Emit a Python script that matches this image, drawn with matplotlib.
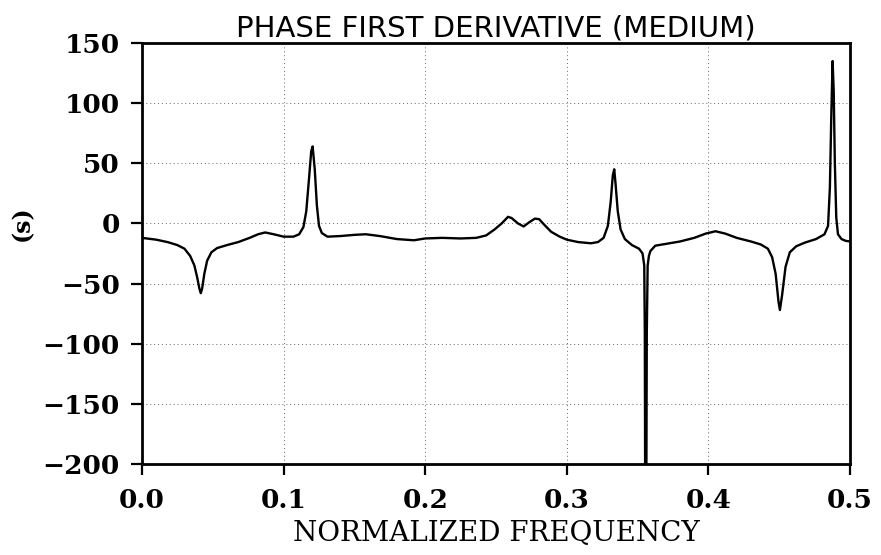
import matplotlib
matplotlib.use("Agg")
import matplotlib.pyplot as plt

# normalized frequency and phase first derivative (s)
freq = [
    0.000, 0.010, 0.018, 0.025, 0.030, 0.034, 0.037, 0.039, 0.0405, 0.0415,
    0.0425, 0.044, 0.046, 0.049, 0.053, 0.060, 0.068, 0.076, 0.082, 0.087,
    0.093, 0.100, 0.107, 0.111, 0.114, 0.116, 0.118, 0.1195, 0.1205, 0.122,
    0.1235, 0.125, 0.127, 0.131, 0.140, 0.150, 0.158, 0.168, 0.180, 0.192,
    0.200, 0.212, 0.225, 0.236, 0.243, 0.249, 0.254, 0.2585, 0.261, 0.2655,
    0.2695, 0.2735, 0.2775, 0.2805, 0.284, 0.289, 0.295, 0.300, 0.308, 0.317,
    0.322, 0.326, 0.329, 0.331, 0.3325, 0.3335, 0.3345, 0.336, 0.338, 0.341,
    0.346, 0.351, 0.3535, 0.3547, 0.3551, 0.3554, 0.3557, 0.3561, 0.3565, 0.3571,
    0.3580, 0.359, 0.3625, 0.370, 0.380, 0.390, 0.398, 0.405, 0.412, 0.420,
    0.430, 0.437, 0.442, 0.445, 0.4475, 0.4495, 0.4505, 0.452, 0.4545, 0.4575,
    0.462, 0.468, 0.476, 0.482, 0.4845, 0.4858, 0.4868, 0.4877, 0.4885, 0.4893,
    0.4903, 0.4915, 0.494, 0.497, 0.500,
]
deriv = [
    -12, -13.5, -15.5, -18, -21, -27, -35, -45, -54, -58,
    -54, -42, -31, -24, -20.5, -18, -15.5, -12, -9, -7.5,
    -9, -11, -11, -9, -3, 10, 38, 60, 64, 45,
    15, -2, -8, -11, -10.5, -9.5, -9, -10.5, -13, -14,
    -12.5, -12, -12.5, -12, -10, -5, 0, 5.5, 4.5, 0,
    -2.5, 1, 4, 3.5, -1, -7, -11, -13.5, -15.5, -16.5,
    -15.5, -12, -2, 18, 40, 45, 32, 10, -5, -13,
    -18, -21, -25, -35, -90, -250, -400, -250, -90, -35,
    -27, -23, -18.5, -17, -15, -12, -8.5, -6.5, -8.5, -12,
    -15, -17.5, -21, -28, -42, -65, -72, -60, -36, -24,
    -19, -16, -13, -9, -2, 30, 90, 135, 110, 50,
    5, -9, -13, -14.5, -15,
]

xticks = [0.0, 0.1, 0.2, 0.3, 0.4, 0.5]
xtick_labels = ["0.0", "0.1", "0.2", "0.3", "0.4", "0.5"]
yticks = [150, 100, 50, 0, -50, -100, -150, -200]

fig = plt.figure(figsize=(8.81, 5.55), dpi=100)
ax = fig.add_axes([142 / 881, 1 - 464 / 555, 708 / 881, 421 / 555])

ax.plot(freq, deriv, color="black", linewidth=1.7)

ax.set_xlim(0, 0.5)
ax.set_ylim(-200, 150)
ax.set_xticks(xticks)
ax.set_xticklabels(xtick_labels)
ax.set_yticks(yticks)
ax.set_yticklabels([str(v).replace("-", "\u2212") for v in yticks])
for lbl in ax.get_xticklabels() + ax.get_yticklabels():
    lbl.set_fontweight("bold")

ax.grid(True, color="0.4", linestyle=(0, (1, 3)), linewidth=0.7)
for s in ax.spines.values():
    s.set_linewidth(2.0)
ax.tick_params(direction="out", length=8, width=1.6,
               labelsize=19, labelfontfamily="DejaVu Serif")
ax.tick_params(axis="y", pad=8)
ax.tick_params(axis="x", pad=9)

ax.set_title("PHASE FIRST DERIVATIVE (MEDIUM)", fontsize=21,
             family="DejaVu Sans", pad=5)
ax.set_xlabel("NORMALIZED FREQUENCY", fontsize=20, family="DejaVu Serif",
              labelpad=5)
ax.set_ylabel("(s)", fontsize=17, family="DejaVu Serif", fontweight="bold")
ax.yaxis.set_label_coords(-0.152, 0.572)

fig.savefig("out.png", dpi=100)
